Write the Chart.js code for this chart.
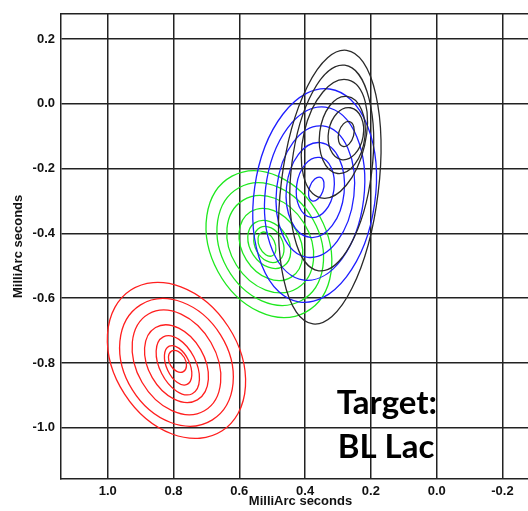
<!DOCTYPE html>
<html>
<head>
<meta charset="utf-8">
<script src="https://cdn.jsdelivr.net/npm/chart.js@4.4.1/dist/chart.umd.min.js"></script>
<style>
    html, body { margin: 0; padding: 0; overflow: hidden; background: #fff; }
    #wrap { position: relative; width: 540px; height: 511px; }
</style>
</head>
<body>
<div id="wrap"><canvas id="myChart"></canvas></div>
<script>
// contours: [centre x, centre y, semi-major, semi-minor, tilt in degrees]
const redContours = [
    [0.791, -0.792, 0.255, 0.188, 57],
    [0.791, -0.798, 0.206, 0.158, 58],
    [0.791, -0.798, 0.170, 0.121, 60],
    [0.791, -0.802, 0.127, 0.085, 60],
    [0.787, -0.807, 0.097, 0.055, 63],
    [0.786, -0.807, 0.064, 0.035, 65],
    [0.788, -0.795, 0.036, 0.024, 60]
];
const greenContours = [
    [0.510, -0.433, 0.235, 0.176, 61.5],
    [0.506, -0.433, 0.196, 0.150, 61],
    [0.506, -0.433, 0.157, 0.121, 58],
    [0.504, -0.434, 0.117, 0.088, 58],
    [0.509, -0.434, 0.079, 0.058, 56],
    [0.510, -0.434, 0.058, 0.042, 62],
    [0.516, -0.433, 0.039, 0.024, 65]
];
const blueContours = [
    [0.371, -0.283, 0.327, 0.184, 98],
    [0.371, -0.277, 0.265, 0.150, 97],
    [0.369, -0.271, 0.201, 0.118, 96.5],
    [0.369, -0.266, 0.145, 0.088, 96],
    [0.369, -0.258, 0.092, 0.057, 98],
    [0.366, -0.263, 0.038, 0.021, 110]
];
const blackContours = [
    [0.325, -0.257, 0.419, 0.148, 97],
    [0.319, -0.198, 0.315, 0.122, 97.2],
    [0.311, -0.108, 0.184, 0.094, 103],
    [0.287, -0.096, 0.118, 0.069, 97],
    [0.276, -0.092, 0.080, 0.053, 100],
    [0.275, -0.093, 0.039, 0.023, 105]
];

const xTicks = [1.0, 0.8, 0.6, 0.4, 0.2, 0.0, -0.2];
const yTicks = [0.2, 0.0, -0.2, -0.4, -0.6, -0.8, -1.0];
const axisTitle = 'MilliArc seconds';
const targetLines = ['Target:', 'BL Lac'];

const tickFont = { family: "'Liberation Sans', Arial, sans-serif", size: 13, weight: 'bold' };
const gridColor = '#222';

function toPoints(list) {
    return list.map((c) => ({ x: c[0], y: c[1], a: c[2], b: c[3], tilt: c[4] }));
}

// draws each contour as an ellipse, placed with the chart's own scales
const contourPlugin = {
    id: 'contours',
    afterDatasetsDraw(chart) {
        const { ctx, chartArea, scales: { x, y } } = chart;
        ctx.save();
        ctx.beginPath();
        ctx.rect(chartArea.left, chartArea.top, chartArea.right - chartArea.left, chartArea.bottom - chartArea.top);
        ctx.clip();
        chart.data.datasets.forEach((ds) => {
            ctx.strokeStyle = ds.borderColor;
            ctx.lineWidth = ds.borderWidth;
            ds.data.forEach((p) => {
                const cx = x.getPixelForValue(p.x);
                const cy = y.getPixelForValue(p.y);
                const unit = Math.abs(x.getPixelForValue(p.x + 1) - cx);
                ctx.beginPath();
                ctx.ellipse(cx, cy, p.a * unit, p.b * unit, p.tilt * Math.PI / 180, 0, Math.PI * 2);
                ctx.stroke();
            });
        });
        ctx.restore();
    }
};

// top edge of the frame and the target caption
const framePlugin = {
    id: 'frame',
    afterDraw(chart) {
        const { ctx, chartArea, scales: { x, y } } = chart;
        ctx.save();
        ctx.strokeStyle = gridColor;
        ctx.lineWidth = 1.5;
        ctx.beginPath();
        ctx.moveTo(chartArea.left, chartArea.top);
        ctx.lineTo(chartArea.right, chartArea.top);
        ctx.stroke();

        ctx.fillStyle = '#000';
        ctx.font = "bold 33px Lato, 'Open Sans', sans-serif";
        ctx.textBaseline = 'alphabetic';
        ctx.textAlign = 'left';
        const tx = x.getPixelForValue(0.304);
        const ty = y.getPixelForValue(-0.957);
        targetLines.forEach((line, i) => {
            ctx.fillText(line, tx + i, ty + i * 44.5);
        });
        ctx.restore();
    }
};

const ctx = document.getElementById('myChart').getContext('2d');
const myChart = new Chart(ctx, {
    type: 'scatter',
    data: {
        datasets: [
            { label: 'red', data: toPoints(redContours), borderColor: '#ff1f1f', borderWidth: 1.3, pointRadius: 0 },
            { label: 'green', data: toPoints(greenContours), borderColor: '#1fe81f', borderWidth: 1.3, pointRadius: 0 },
            { label: 'blue', data: toPoints(blueContours), borderColor: '#1f1fff', borderWidth: 1.3, pointRadius: 0 },
            { label: 'black', data: toPoints(blackContours), borderColor: '#2a2a2a', borderWidth: 1.3, pointRadius: 0 }
        ]
    },
    options: {
        responsive: true,
        maintainAspectRatio: false,
        animation: false,
        events: [],
        layout: { padding: { top: 5, left: 0, right: 0, bottom: 0 } },
        plugins: {
            legend: { display: false },
            tooltip: { enabled: false }
        },
        scales: {
            x: {
                type: 'linear',
                reverse: true,
                min: -0.314,
                max: 1.142,
                afterBuildTicks: (scale) => { scale.ticks = xTicks.map((v) => ({ value: v })); },
                afterFit: (scale) => { scale.height = 32; },
                ticks: {
                    callback: (v) => v.toFixed(1),
                    font: tickFont,
                    color: '#111',
                    padding: 5,
                    maxRotation: 0
                },
                grid: { color: gridColor, lineWidth: 1.5, drawTicks: false },
                border: { display: true, color: gridColor, width: 1.5 },
                title: {
                    display: true,
                    text: axisTitle,
                    font: tickFont,
                    color: '#111',
                    padding: { top: 0, bottom: 2 }
                }
            },
            y: {
                type: 'linear',
                min: -1.158,
                max: 0.278,
                afterBuildTicks: (scale) => { scale.ticks = yTicks.map((v) => ({ value: v })); },
                afterFit: (scale) => { scale.width = 61; },
                ticks: {
                    callback: (v) => v.toFixed(1),
                    font: tickFont,
                    color: '#111',
                    padding: 6
                },
                grid: { color: gridColor, lineWidth: 1.5, drawTicks: false },
                border: { display: true, color: gridColor, width: 1.5 },
                title: {
                    display: true,
                    text: axisTitle,
                    font: tickFont,
                    color: '#111',
                    padding: { top: 11, bottom: 0 }
                }
            }
        }
    },
    plugins: [contourPlugin, framePlugin]
});
</script>
</body>
</html>
